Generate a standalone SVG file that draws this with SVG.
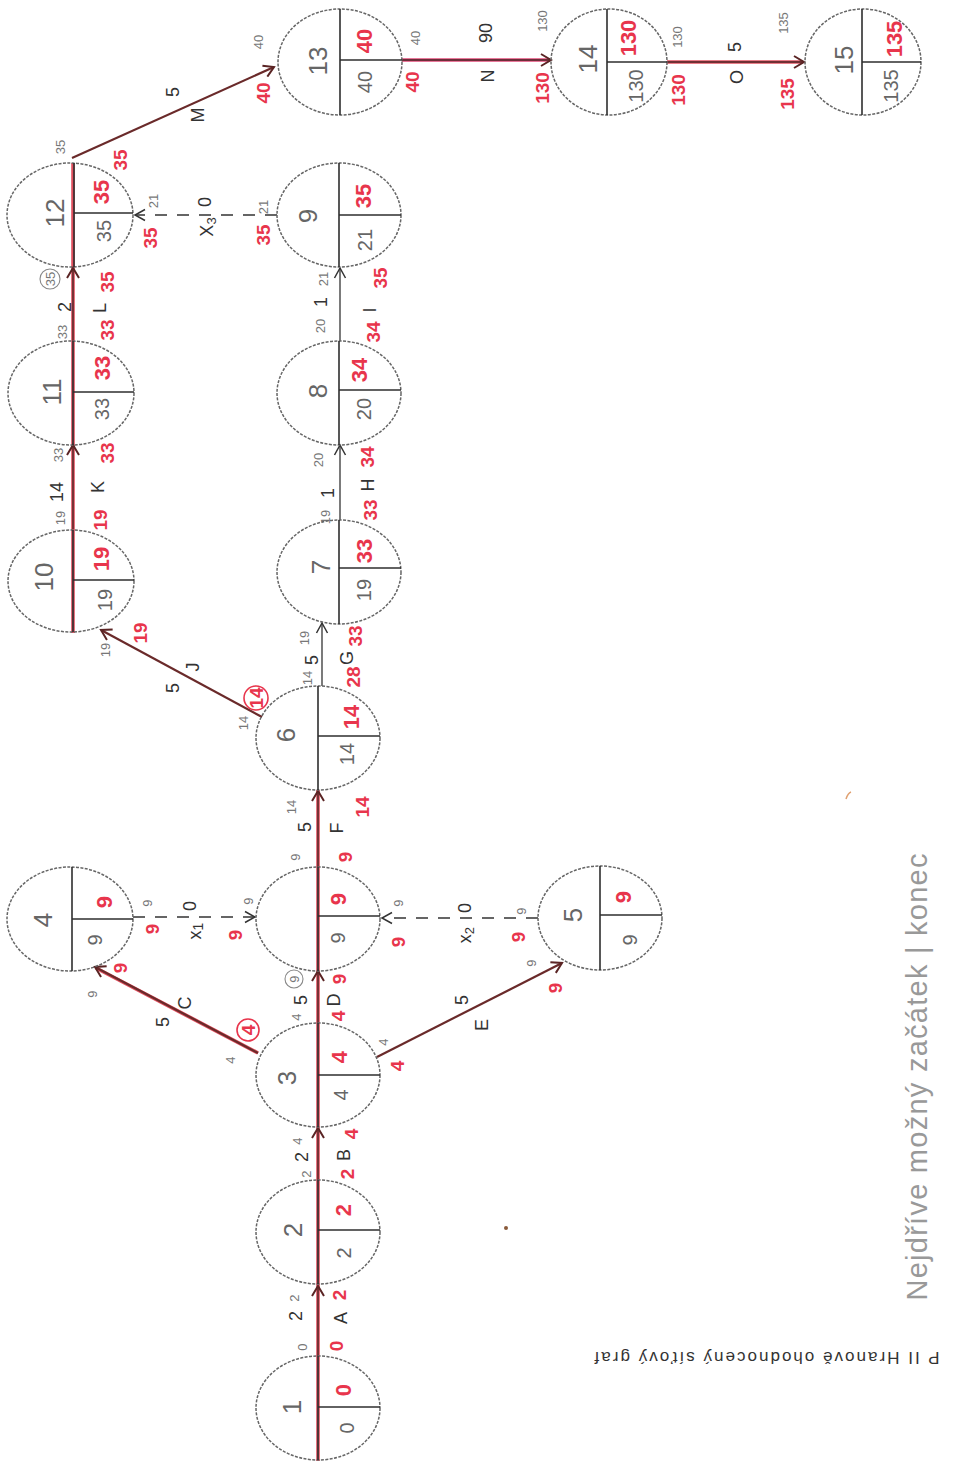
<svg xmlns="http://www.w3.org/2000/svg" width="968" height="1461" viewBox="0 0 968 1461">
<style>
.t{font-family:"Liberation Sans",Arial,sans-serif;text-anchor:middle;dominant-baseline:central}
.nn{font-size:26px;fill:#666}
.rn{font-size:22px;fill:#e8354c;font-weight:bold}
.bn{font-size:20px;fill:#666}
.s{font-size:13px;fill:#777}
.lb{font-size:18px;fill:#333}
.re{font-size:19px;fill:#e8354c;font-weight:bold}
.c{fill:none;stroke:#666;stroke-width:1.5;stroke-dasharray:3 1.4}
.dia{stroke:#2e2e2e;stroke-width:1.6;fill:none}
.hl{stroke:#e2505f;stroke-width:3.6;fill:none}
.hlp{stroke:#e04a78;stroke-width:3.4;fill:none}
.cr{stroke:#4a2626;stroke-width:1.4;fill:none;marker-end:url(#ahr)}
.dg{stroke:#6a2a2a;stroke-width:2.2;fill:none;marker-end:url(#ahr)}
.bk{stroke:#333;stroke-width:1.3;fill:none;marker-end:url(#ahk)}
.ds{stroke:#333;stroke-width:1.4;fill:none;stroke-dasharray:12 10;marker-end:url(#ahk)}
.cc{fill:none;stroke:#888;stroke-width:1.1}
.rc{fill:none;stroke:#e8354c;stroke-width:1.6}
</style>
<defs>
<marker id="ahr" markerUnits="userSpaceOnUse" markerWidth="14" markerHeight="14" refX="11" refY="7" orient="auto"><path d="M1,1 L11,7 L1,13" fill="none" stroke="#5a2424" stroke-width="2"/></marker>
<marker id="ahk" markerUnits="userSpaceOnUse" markerWidth="14" markerHeight="14" refX="11" refY="7" orient="auto"><path d="M1,1.5 L11,7 L1,12.5" fill="none" stroke="#333" stroke-width="1.5"/></marker>
</defs>
<rect width="968" height="1461" fill="#fff"/>

<g id="connectors">
<path class="hl" d="M318,1461 V790"/>
<path class="hl" d="M73,633 V163"/>
<path class="hl" d="M258,1053 L96,968"/>
<path class="hlp" d="M402,60 H550"/>
<path class="hl" d="M667,62 H803"/>

<g id="edge-A"><path class="cr" d="M318,1356 V1286"/>
<text class="t s" x="302" y="1347" transform="rotate(-90 302 1347)">0</text>
<text class="t lb" x="296" y="1316" transform="rotate(-90 296 1316)">2</text>
<text class="t s" x="294" y="1298" transform="rotate(-90 294 1298)">2</text>
<text class="t re" x="336" y="1346" transform="rotate(-90 336 1346)">0</text>
<text class="t lb" x="341" y="1318" transform="rotate(-90 341 1318)">A</text>
<text class="t re" x="339" y="1295" transform="rotate(-90 339 1295)">2</text></g>

<g id="edge-B"><path class="cr" d="M318,1180 V1128"/>
<text class="t s" x="306" y="1174" transform="rotate(-90 306 1174)">2</text>
<text class="t lb" x="302" y="1157" transform="rotate(-90 302 1157)">2</text>
<text class="t s" x="297" y="1141" transform="rotate(-90 297 1141)">4</text>
<text class="t re" x="347" y="1174" transform="rotate(-90 347 1174)">2</text>
<text class="t lb" x="344" y="1155" transform="rotate(-90 344 1155)">B</text>
<text class="t re" x="351" y="1134" transform="rotate(-90 351 1134)">4</text></g>

<g id="edge-C"><path class="dg" d="M258,1053 L95,967"/>
<text class="t s" x="230" y="1060" transform="rotate(-90 230 1060)">4</text>
<circle class="rc" cx="248" cy="1030" r="11"/>
<text class="t re" x="248" y="1030" transform="rotate(-90 248 1030)">4</text>
<text class="t lb" x="163" y="1022" transform="rotate(-90 163 1022)">5</text>
<text class="t lb" x="185" y="1003" transform="rotate(-90 185 1003)">C</text>
<text class="t s" x="92" y="994" transform="rotate(-90 92 994)">9</text>
<text class="t re" x="120" y="968" transform="rotate(-90 120 968)">9</text></g>

<g id="edge-D"><path class="cr" d="M318,1023 V971"/>
<text class="t s" x="296" y="1017" transform="rotate(-90 296 1017)">4</text>
<text class="t lb" x="301" y="1000" transform="rotate(-90 301 1000)">5</text>
<circle class="cc" cx="294" cy="979" r="9"/>
<text class="t s" x="294" y="979" transform="rotate(-90 294 979)">9</text>
<text class="t re" x="338" y="1016" transform="rotate(-90 338 1016)">4</text>
<text class="t lb" x="334" y="1000" transform="rotate(-90 334 1000)">D</text>
<text class="t re" x="339" y="979" transform="rotate(-90 339 979)">9</text></g>

<g id="edge-E"><path class="dg" d="M377,1057 L562,963"/>
<text class="t s" x="383" y="1042" transform="rotate(-90 383 1042)">4</text>
<text class="t re" x="397" y="1066" transform="rotate(-90 397 1066)">4</text>
<text class="t lb" x="462" y="1000" transform="rotate(-90 462 1000)">5</text>
<text class="t lb" x="482" y="1025" transform="rotate(-90 482 1025)">E</text>
<text class="t s" x="531" y="963" transform="rotate(-90 531 963)">9</text>
<text class="t re" x="555" y="988" transform="rotate(-90 555 988)">9</text></g>

<g id="edge-x1"><path class="ds" d="M133,917 H255"/>
<text class="t s" x="147" y="903" transform="rotate(-90 147 903)">9</text>
<text class="t re" x="152" y="929" transform="rotate(-90 152 929)">9</text>
<text class="t lb" x="190" y="906" transform="rotate(-90 190 906)">0</text>
<text class="t lb" x="195" y="931" transform="rotate(-90 195 931)">x<tspan font-size="14" dy="3">1</tspan></text>
<text class="t s" x="248" y="901" transform="rotate(-90 248 901)">9</text>
<text class="t re" x="235" y="935" transform="rotate(-90 235 935)">9</text></g>

<g id="edge-x2"><path class="ds" d="M538,918 H382"/>
<text class="t s" x="398" y="903" transform="rotate(-90 398 903)">9</text>
<text class="t re" x="398" y="942" transform="rotate(-90 398 942)">9</text>
<text class="t lb" x="465" y="908" transform="rotate(-90 465 908)">0</text>
<text class="t lb" x="465" y="935" transform="rotate(-90 465 935)">x<tspan font-size="13" dy="4">2</tspan></text>
<text class="t s" x="521" y="911" transform="rotate(-90 521 911)">9</text>
<text class="t re" x="518" y="937" transform="rotate(-90 518 937)">9</text></g>

<g id="edge-F"><path class="cr" d="M318,867 V791"/>
<text class="t s" x="295" y="857" transform="rotate(-90 295 857)">9</text>
<text class="t lb" x="305" y="827" transform="rotate(-90 305 827)">5</text>
<text class="t s" x="291" y="807" transform="rotate(-90 291 807)">14</text>
<text class="t re" x="345" y="857" transform="rotate(-90 345 857)">9</text>
<text class="t lb" x="337" y="828" transform="rotate(-90 337 828)">F</text>
<text class="t re" x="362" y="807" transform="rotate(-90 362 807)">14</text></g>

<g id="edge-J"><path class="dg" d="M262,717 L101,630"/>
<text class="t s" x="243" y="723" transform="rotate(-90 243 723)">14</text>
<circle class="rc" cx="256" cy="698" r="12"/>
<text class="t re" x="256" y="698" font-size="15" transform="rotate(-90 256 698)">14</text>
<text class="t lb" x="173" y="688" transform="rotate(-90 173 688)">5</text>
<text class="t lb" x="193" y="667" transform="rotate(-90 193 667)">J</text>
<text class="t s" x="105" y="650" transform="rotate(-90 105 650)">19</text>
<text class="t re" x="140" y="633" transform="rotate(-90 140 633)">19</text></g>

<g id="edge-G"><path class="bk" d="M322,686 V623"/>
<text class="t s" x="307" y="678" transform="rotate(-90 307 678)">14</text>
<text class="t lb" x="312" y="660" transform="rotate(-90 312 660)">5</text>
<text class="t s" x="304" y="638" transform="rotate(-90 304 638)">19</text>
<text class="t re" x="353" y="677" transform="rotate(-90 353 677)">28</text>
<text class="t lb" x="347" y="658" transform="rotate(-90 347 658)">G</text>
<text class="t re" x="355" y="636" transform="rotate(-90 355 636)">33</text></g>

<g id="edge-H"><path class="bk" d="M340,520 V445"/>
<text class="t s" x="325" y="517" transform="rotate(-90 325 517)">19</text>
<text class="t lb" x="328" y="493" transform="rotate(-90 328 493)">1</text>
<text class="t s" x="318" y="460" transform="rotate(-90 318 460)">20</text>
<text class="t re" x="370" y="510" transform="rotate(-90 370 510)">33</text>
<text class="t lb" x="368" y="485" transform="rotate(-90 368 485)">H</text>
<text class="t re" x="367" y="457" transform="rotate(-90 367 457)">34</text></g>

<g id="edge-I"><path class="bk" d="M340,341 V268"/>
<text class="t s" x="320" y="326" transform="rotate(-90 320 326)">20</text>
<text class="t lb" x="321" y="302" transform="rotate(-90 321 302)">1</text>
<text class="t s" x="323" y="279" transform="rotate(-90 323 279)">21</text>
<text class="t re" x="373" y="332" transform="rotate(-90 373 332)">34</text>
<text class="t lb" x="370" y="310" transform="rotate(-90 370 310)">I</text>
<text class="t re" x="380" y="278" transform="rotate(-90 380 278)">35</text></g>

<g id="edge-x3"><path class="ds" d="M277,215 H135"/>
<text class="t s" x="153" y="201" transform="rotate(-90 153 201)">21</text>
<text class="t re" x="150" y="238" transform="rotate(-90 150 238)">35</text>
<text class="t lb" x="205" y="202" transform="rotate(-90 205 202)">0</text>
<text class="t lb" x="207" y="227" transform="rotate(-90 207 227)">X<tspan font-size="13" dy="4">3</tspan></text>
<text class="t s" x="263" y="207" transform="rotate(-90 263 207)">21</text>
<text class="t re" x="263" y="235" transform="rotate(-90 263 235)">35</text></g>

<g id="edge-K"><path class="cr" d="M73,529 V445"/>
<text class="t s" x="60" y="518" transform="rotate(-90 60 518)">19</text>
<text class="t lb" x="57" y="492" transform="rotate(-90 57 492)">14</text>
<text class="t s" x="58" y="455" transform="rotate(-90 58 455)">33</text>
<text class="t re" x="100" y="520" transform="rotate(-90 100 520)">19</text>
<text class="t lb" x="98" y="487" transform="rotate(-90 98 487)">K</text>
<text class="t re" x="107" y="453" transform="rotate(-90 107 453)">33</text></g>

<g id="edge-L"><path class="cr" d="M73,341 V268"/>
<text class="t s" x="62" y="332" transform="rotate(-90 62 332)">33</text>
<text class="t lb" x="65" y="307" transform="rotate(-90 65 307)">2</text>
<circle class="cc" cx="50" cy="279" r="10"/>
<text class="t s" x="50" y="279" transform="rotate(-90 50 279)">35</text>
<text class="t re" x="107" y="330" transform="rotate(-90 107 330)">33</text>
<text class="t lb" x="100" y="308" transform="rotate(-90 100 308)">L</text>
<text class="t re" x="107" y="282" transform="rotate(-90 107 282)">35</text></g>

<g id="edge-M"><path class="dg" d="M72,158 L274,67"/>
<text class="t s" x="60" y="147" transform="rotate(-90 60 147)">35</text>
<text class="t re" x="120" y="160" transform="rotate(-90 120 160)">35</text>
<text class="t lb" x="173" y="92" transform="rotate(-90 173 92)">5</text>
<text class="t lb" x="198" y="115" transform="rotate(-90 198 115)">M</text>
<text class="t s" x="258" y="42" transform="rotate(-90 258 42)">40</text>
<text class="t re" x="263" y="93" transform="rotate(-90 263 93)">40</text></g>

<g id="edge-N"><path class="cr" d="M402,60 H551"/>
<text class="t s" x="415" y="38" transform="rotate(-90 415 38)">40</text>
<text class="t re" x="412" y="82" transform="rotate(-90 412 82)">40</text>
<text class="t lb" x="486" y="33" transform="rotate(-90 486 33)">90</text>
<text class="t lb" x="488" y="76" transform="rotate(-90 488 76)">N</text>
<text class="t s" x="542" y="21" transform="rotate(-90 542 21)">130</text>
<text class="t re" x="542" y="88" transform="rotate(-90 542 88)">130</text></g>

<g id="edge-O"><path class="cr" d="M667,62 H804"/>
<text class="t s" x="677" y="37" transform="rotate(-90 677 37)">130</text>
<text class="t re" x="678" y="90" transform="rotate(-90 678 90)">130</text>
<text class="t lb" x="735" y="47" transform="rotate(-90 735 47)">5</text>
<text class="t lb" x="737" y="77" transform="rotate(-90 737 77)">O</text>
<text class="t s" x="783" y="23" transform="rotate(-90 783 23)">135</text>
<text class="t re" x="787" y="94" transform="rotate(-90 787 94)">135</text></g>
</g>

<g id="node-1"><ellipse class="c" cx="318" cy="1408" rx="62" ry="52"/>
<line class="dia" x1="318" y1="1356" x2="318" y2="1460"/><line class="dia" x1="318" y1="1407" x2="380" y2="1407"/>
<text class="t nn" x="292" y="1407" transform="rotate(-90 292 1407)">1</text>
<text class="t rn" x="343" y="1390" transform="rotate(-90 343 1390)">0</text>
<text class="t bn" x="347" y="1428" transform="rotate(-90 347 1428)">0</text></g>

<g id="node-2"><ellipse class="c" cx="318" cy="1232" rx="62" ry="52"/>
<line class="dia" x1="318" y1="1180" x2="318" y2="1284"/><line class="dia" x1="318" y1="1230" x2="380" y2="1230"/>
<text class="t nn" x="293" y="1230" transform="rotate(-90 293 1230)">2</text>
<text class="t rn" x="343" y="1210" transform="rotate(-90 343 1210)">2</text>
<text class="t bn" x="344" y="1253" transform="rotate(-90 344 1253)">2</text></g>

<g id="node-3"><ellipse class="c" cx="318" cy="1075" rx="62" ry="52"/>
<line class="dia" x1="318" y1="1023" x2="318" y2="1127"/><line class="dia" x1="318" y1="1075" x2="380" y2="1075"/>
<text class="t nn" x="287" y="1078" transform="rotate(-90 287 1078)">3</text>
<text class="t rn" x="339" y="1057" transform="rotate(-90 339 1057)">4</text>
<text class="t bn" x="341" y="1095" transform="rotate(-90 341 1095)">4</text></g>

<g id="node-x"><ellipse class="c" cx="318" cy="919" rx="62" ry="52"/>
<line class="dia" x1="318" y1="867" x2="318" y2="971"/><line class="dia" x1="318" y1="916" x2="380" y2="916"/>
<text class="t rn" x="338" y="899" transform="rotate(-90 338 899)">9</text>
<text class="t bn" x="338" y="938" transform="rotate(-90 338 938)">9</text></g>

<g id="node-4"><ellipse class="c" cx="70" cy="919" rx="63" ry="52"/>
<line class="dia" x1="72" y1="867" x2="72" y2="971"/><line class="dia" x1="72" y1="919" x2="133" y2="919"/>
<text class="t nn" x="43" y="920" transform="rotate(-90 43 920)">4</text>
<text class="t rn" x="104" y="902" transform="rotate(-90 104 902)">9</text>
<text class="t bn" x="95" y="940" transform="rotate(-90 95 940)">9</text></g>

<g id="node-5"><ellipse class="c" cx="600" cy="918" rx="62" ry="52"/>
<line class="dia" x1="600" y1="866" x2="600" y2="970"/><line class="dia" x1="600" y1="915" x2="662" y2="915"/>
<text class="t nn" x="573" y="915" transform="rotate(-90 573 915)">5</text>
<text class="t rn" x="623" y="897" transform="rotate(-90 623 897)">9</text>
<text class="t bn" x="630" y="940" transform="rotate(-90 630 940)">9</text></g>

<g id="node-6"><ellipse class="c" cx="318" cy="738" rx="62" ry="52"/>
<line class="dia" x1="318" y1="686" x2="318" y2="790"/><line class="dia" x1="318" y1="736" x2="380" y2="736"/>
<text class="t nn" x="286" y="735" transform="rotate(-90 286 735)">6</text>
<text class="t rn" x="351" y="717" transform="rotate(-90 351 717)">14</text>
<text class="t bn" x="347" y="754" transform="rotate(-90 347 754)">14</text></g>

<g id="node-7"><ellipse class="c" cx="339" cy="572" rx="62" ry="52"/>
<line class="dia" x1="339" y1="520" x2="339" y2="624"/><line class="dia" x1="339" y1="568" x2="401" y2="568"/>
<text class="t nn" x="321" y="567" transform="rotate(-90 321 567)">7</text>
<text class="t rn" x="364" y="551" transform="rotate(-90 364 551)">33</text>
<text class="t bn" x="364" y="590" transform="rotate(-90 364 590)">19</text></g>

<g id="node-8"><ellipse class="c" cx="339" cy="393" rx="62" ry="52"/>
<line class="dia" x1="339" y1="341" x2="339" y2="445"/><line class="dia" x1="339" y1="390" x2="401" y2="390"/>
<text class="t nn" x="318" y="391" transform="rotate(-90 318 391)">8</text>
<text class="t rn" x="359" y="370" transform="rotate(-90 359 370)">34</text>
<text class="t bn" x="364" y="409" transform="rotate(-90 364 409)">20</text></g>

<g id="node-9"><ellipse class="c" cx="339" cy="215" rx="62" ry="52"/>
<line class="dia" x1="339" y1="163" x2="339" y2="267"/><line class="dia" x1="339" y1="215" x2="401" y2="215"/>
<text class="t nn" x="308" y="216" transform="rotate(-90 308 216)">9</text>
<text class="t rn" x="363" y="196" transform="rotate(-90 363 196)">35</text>
<text class="t bn" x="365" y="240" transform="rotate(-90 365 240)">21</text></g>

<g id="node-10"><ellipse class="c" cx="71" cy="581" rx="63" ry="51"/>
<line class="dia" x1="73" y1="530" x2="73" y2="632"/><line class="dia" x1="73" y1="580" x2="134" y2="580"/>
<text class="t nn" x="44" y="577" transform="rotate(-90 44 577)">10</text>
<text class="t rn" x="101" y="559" transform="rotate(-90 101 559)">19</text>
<text class="t bn" x="105" y="600" transform="rotate(-90 105 600)">19</text></g>

<g id="node-11"><ellipse class="c" cx="71" cy="393" rx="63" ry="52"/>
<line class="dia" x1="73" y1="341" x2="73" y2="445"/><line class="dia" x1="73" y1="392" x2="134" y2="392"/>
<text class="t nn" x="52" y="392" transform="rotate(-90 52 392)">11</text>
<text class="t rn" x="102" y="368" transform="rotate(-90 102 368)">33</text>
<text class="t bn" x="102" y="409" transform="rotate(-90 102 409)">33</text></g>

<g id="node-12"><ellipse class="c" cx="70" cy="215" rx="63" ry="52"/>
<line class="dia" x1="74" y1="163" x2="74" y2="267"/><line class="dia" x1="74" y1="213" x2="133" y2="213"/>
<text class="t nn" x="55" y="213" transform="rotate(-90 55 213)">12</text>
<text class="t rn" x="101" y="192" transform="rotate(-90 101 192)">35</text>
<text class="t bn" x="104" y="231" transform="rotate(-90 104 231)">35</text></g>

<g id="node-13"><ellipse class="c" cx="340" cy="62" rx="62" ry="53"/>
<line class="dia" x1="340" y1="9" x2="340" y2="115"/><line class="dia" x1="340" y1="60" x2="402" y2="60"/>
<text class="t nn" x="318" y="61" transform="rotate(-90 318 61)">13</text>
<text class="t rn" x="364" y="41" transform="rotate(-90 364 41)">40</text>
<text class="t bn" x="365" y="82" transform="rotate(-90 365 82)">40</text></g>

<g id="node-14"><ellipse class="c" cx="609" cy="62" rx="58" ry="53"/>
<line class="dia" x1="607" y1="9" x2="607" y2="115"/><line class="dia" x1="607" y1="62" x2="667" y2="62"/>
<text class="t nn" x="588" y="59" transform="rotate(-90 588 59)">14</text>
<text class="t rn" x="628" y="38" transform="rotate(-90 628 38)">130</text>
<text class="t bn" x="636" y="86" transform="rotate(-90 636 86)">130</text></g>

<g id="node-15"><ellipse class="c" cx="863" cy="62" rx="58" ry="53"/>
<line class="dia" x1="862" y1="9" x2="862" y2="115"/><line class="dia" x1="862" y1="62" x2="921" y2="62"/>
<text class="t nn" x="844" y="60" transform="rotate(-90 844 60)">15</text>
<text class="t rn" x="894" y="39" transform="rotate(-90 894 39)">135</text>
<text class="t bn" x="891" y="86" transform="rotate(-90 891 86)">135</text></g>

<g id="notes">
<text class="t" x="917" y="1077" font-size="29" fill="#999" textLength="447" lengthAdjust="spacing" transform="rotate(-90 917 1077)">Nejdříve možný začátek | konec</text>
<text class="t" x="767" y="1357" font-size="17" fill="#333" textLength="345" lengthAdjust="spacing" transform="rotate(180 767 1357)">P II Hranově ohodnocený síťový graf</text>
<path d="M846,799 q2,-6 5,-7" fill="none" stroke="#e0a070" stroke-width="1.5"/>
<circle cx="506" cy="1228" r="2" fill="#8a5a3a"/>
</g>
</svg>
